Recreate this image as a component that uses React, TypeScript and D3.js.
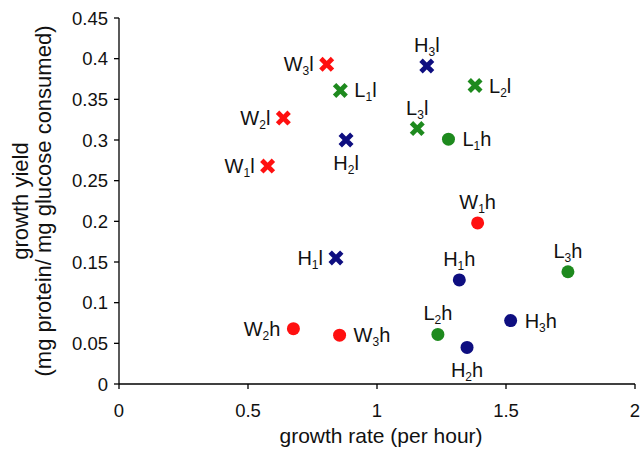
import { useEffect, useRef } from "react";
import * as d3 from "d3";

// strain labels: letter, subscript, suffix
const names = ["W1l", "W2l", "W3l", "L1l", "L2l", "L3l", "H1l", "H2l", "H3l",
  "W1h", "W2h", "W3h", "L1h", "L2h", "L3h", "H1h", "H2h", "H3h"];
const growthRate = [0.576, 0.637, 0.805, 0.858, 1.38, 1.156, 0.841, 0.88, 1.193,
  1.39, 0.676, 0.855, 1.277, 1.236, 1.74, 1.319, 1.349, 1.518];
const growthYield = [0.268, 0.327, 0.393, 0.361, 0.367, 0.314, 0.155, 0.3, 0.391,
  0.198, 0.068, 0.06, 0.301, 0.061, 0.138, 0.128, 0.045, 0.078];
// where each label sits relative to its point
const labelSide = ["left", "left", "left", "right", "right", "above", "left", "below", "above",
  "above", "left", "right", "right", "above", "above", "above", "below", "right"];

const xTicks = [0, 0.5, 1, 1.5, 2];
const yTicks = [0, 0.05, 0.1, 0.15, 0.2, 0.25, 0.3, 0.35, 0.4, 0.45];
const yTickLabels = ["0", "0.05", "0.1", "0.15", "0.2", "0.25", "0.3", "0.35", "0.4", "0.45"];

const colors = { W: "#ff1010", L: "#1e8a1e", H: "#0e0e80" };

const App = () => {
  const svgRef = useRef();

  useEffect(() => {
    document.body.style.margin = "0";
    const svg = d3.select(svgRef.current);
    const font = "'Liberation Sans', Arial, sans-serif";

    svg.selectAll("*").remove();

    const x = d3.scaleLinear().domain([0, 2]).range([119, 635]);
    const y = d3.scaleLinear().domain([0, 0.45]).range([384, 18]);

    // axes
    const gx = svg.append("g").attr("transform", `translate(0,${y(0)})`);
    gx.append("line").attr("x1", x(0)).attr("x2", x(2)).attr("stroke", "#000").attr("stroke-width", 1.3);
    xTicks.forEach((t) => {
      gx.append("line").attr("x1", x(t)).attr("x2", x(t)).attr("y1", 0).attr("y2", 5)
        .attr("stroke", "#000").attr("stroke-width", 1.3);
      gx.append("text").attr("x", x(t)).attr("y", 33).attr("text-anchor", "middle")
        .attr("font-family", font).attr("font-size", 18.5).attr("fill", "#111").text(t);
    });

    const gy = svg.append("g").attr("transform", `translate(${x(0)},0)`);
    gy.append("line").attr("y1", y(0)).attr("y2", y(0.45)).attr("stroke", "#000").attr("stroke-width", 1.3);
    yTicks.forEach((t, i) => {
      gy.append("line").attr("x1", -5).attr("x2", 0).attr("y1", y(t)).attr("y2", y(t))
        .attr("stroke", "#000").attr("stroke-width", 1.3);
      gy.append("text").attr("x", -11).attr("y", y(t) + 6.5).attr("text-anchor", "end")
        .attr("font-family", font).attr("font-size", 18.5).attr("fill", "#111").text(yTickLabels[i]);
    });

    svg.append("text").attr("x", (x(0) + x(2)) / 2 + 4).attr("y", 443).attr("text-anchor", "middle")
      .attr("font-family", font).attr("font-size", 21).attr("fill", "#111").text("growth rate (per hour)");

    const yl = svg.append("text").attr("transform", `translate(0,${(y(0) + y(0.45)) / 2}) rotate(-90)`)
      .attr("text-anchor", "middle").attr("font-family", font).attr("font-size", 22).attr("fill", "#111");
    yl.append("tspan").attr("x", 0).attr("y", 28).text("growth yield");
    yl.append("tspan").attr("x", 0).attr("y", 51).text("(mg protein/ mg glucose consumed)");

    // points
    names.forEach((n, i) => {
      const cx = x(growthRate[i]);
      const cy = y(growthYield[i]);
      const c = colors[n[0]];
      if (n[2] === "l") {
        const s = 5.8;
        svg.append("path")
          .attr("d", `M${cx - s},${cy - s}L${cx + s},${cy + s}M${cx - s},${cy + s}L${cx + s},${cy - s}`)
          .attr("stroke", c).attr("stroke-width", 4.8).attr("fill", "none");
      } else {
        svg.append("circle").attr("cx", cx).attr("cy", cy).attr("r", 6.5).attr("fill", c);
      }

      const side = labelSide[i];
      let lx = cx, ly = cy + 7, anchor = "middle";
      if (side === "left") { lx = cx - 13; anchor = "end"; }
      if (side === "right") { lx = cx + 14; anchor = "start"; }
      if (side === "above") { ly = cy - 14; }
      if (side === "below") { ly = cy + 30; }
      const t = svg.append("text").attr("x", lx).attr("y", ly).attr("text-anchor", anchor)
        .attr("font-family", font).attr("font-size", 20).attr("fill", "#111");
      t.append("tspan").text(n[0]);
      t.append("tspan").attr("font-size", 12).attr("dy", 4).text(n[1]);
      t.append("tspan").attr("dy", -4).text(n[2]);
    });
  }, []);

  return <svg ref={svgRef} width={642} height={452} style={{ display: "block" }} />;
};

export default App;
